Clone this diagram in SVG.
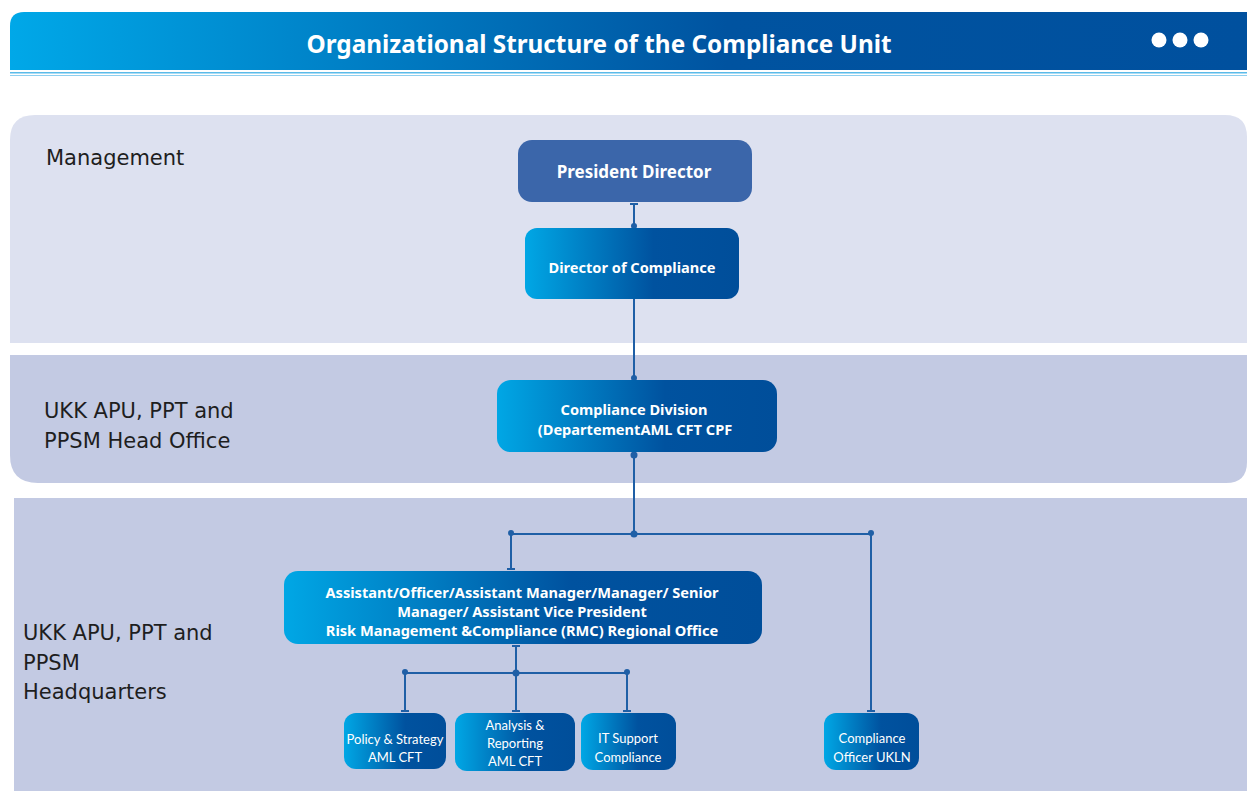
<svg xmlns="http://www.w3.org/2000/svg" width="1247" height="791" viewBox="0 0 1247 791">
<defs>
<linearGradient id="hdr" x1="0" y1="0" x2="1" y2="0">
<stop offset="0" stop-color="#00a8e8"/>
<stop offset="0.58" stop-color="#0053a0"/>
<stop offset="1" stop-color="#00509e"/>
</linearGradient>
<linearGradient id="ng" x1="0" y1="0" x2="1" y2="0">
<stop offset="0" stop-color="#00a7e5"/>
<stop offset="0.6" stop-color="#00529f"/>
<stop offset="1" stop-color="#004e9a"/>
</linearGradient>
<style>
.band1{fill:#dde1f0}
.band2{fill:#c3cae3}
.lbl{font-family:"DejaVu Sans","Liberation Sans",sans-serif;font-size:21px;fill:#1e1e1e}
.bt{font-family:"Noto Sans","Liberation Sans",sans-serif;font-weight:bold;fill:#fff;text-anchor:middle}
.st{font-family:"Lato","Liberation Sans",sans-serif;font-size:13px;fill:#fff;text-anchor:middle}
.node{fill:url(#ng)}
.ln{stroke:#1f5fa6;stroke-width:2;fill:none}
.dot{fill:#1f5fa6}
</style>
</defs>
<rect width="1247" height="791" fill="#fff"/>
<!-- header -->
<path d="M10,70 V26 Q10,12 24,12 H1247 V70 Z" fill="url(#hdr)"/>
<rect x="10" y="72" width="1237" height="1.5" fill="#5bbbe9"/>
<rect x="10" y="75" width="1237" height="1" fill="#8fd0f0"/>
<text x="599" y="53" font-family="Noto Sans, Liberation Sans, sans-serif" font-weight="bold" font-size="24.3" fill="#fff" text-anchor="middle">Organizational Structure of the Compliance Unit</text>
<circle cx="1159" cy="40" r="7.5" fill="#fff"/>
<circle cx="1180" cy="40" r="7.5" fill="#fff"/>
<circle cx="1201" cy="40" r="7.5" fill="#fff"/>
<!-- bands -->
<path class="band1" d="M10,343 V140 Q10,115 35,115 H1225 Q1247,115 1247,137 V343 Z"/>
<path class="band2" d="M10,355 H1247 V462 Q1247,483 1226,483 H38 Q10,483 10,455 Z"/>
<rect class="band2" x="14" y="498" width="1233" height="293"/>
<text class="lbl" x="46" y="165">Management</text>
<text class="lbl" x="44" y="418">UKK APU, PPT and</text>
<text class="lbl" x="44" y="448">PPSM Head Office</text>
<text class="lbl" x="23" y="640">UKK APU, PPT and</text>
<text class="lbl" x="23" y="670">PPSM</text>
<text class="lbl" x="23" y="699">Headquarters</text>
<!-- connectors -->
<g id="connectors">
<line class="ln" x1="634" y1="203" x2="634" y2="227"/>
<line class="ln" x1="630" y1="204" x2="638" y2="204"/>
<circle class="dot" cx="634" cy="226" r="3"/>
<line class="ln" x1="634" y1="299" x2="634" y2="380"/>
<circle class="dot" cx="634" cy="378" r="3"/>
<line class="ln" x1="634" y1="452" x2="634" y2="534"/>
<circle class="dot" cx="634" cy="455" r="3.5"/>
<line class="ln" x1="511" y1="534" x2="871" y2="534"/>
<circle class="dot" cx="634" cy="534" r="3.5"/>
<circle class="dot" cx="511" cy="533" r="3"/>
<circle class="dot" cx="871" cy="533" r="3"/>
<line class="ln" x1="511" y1="534" x2="511" y2="569"/>
<line class="ln" x1="507" y1="569" x2="515" y2="569"/>
<line class="ln" x1="871" y1="534" x2="871" y2="712"/>
<line class="ln" x1="867" y1="711" x2="875" y2="711"/>
<line class="ln" x1="516" y1="645" x2="516" y2="673"/>
<line class="ln" x1="512" y1="646" x2="520" y2="646"/>
<line class="ln" x1="405" y1="673" x2="627" y2="673"/>
<circle class="dot" cx="516" cy="673" r="3.5"/>
<circle class="dot" cx="405" cy="672" r="3"/>
<circle class="dot" cx="627" cy="672" r="3"/>
<line class="ln" x1="405" y1="673" x2="405" y2="712"/>
<line class="ln" x1="401" y1="711" x2="409" y2="711"/>
<line class="ln" x1="516" y1="673" x2="516" y2="712"/>
<line class="ln" x1="512" y1="711" x2="520" y2="711"/>
<line class="ln" x1="627" y1="673" x2="627" y2="712"/>
<line class="ln" x1="623" y1="711" x2="631" y2="711"/>
</g>
<!-- nodes -->
<g id="president">
<rect x="518" y="140" width="234" height="62" rx="14" fill="#3b66aa"/>
<text class="bt" x="634" y="178" font-size="17">President Director</text>
</g>
<g id="director">
<rect class="node" x="525" y="228" width="214" height="71" rx="12"/>
<text class="bt" x="632" y="273" font-size="14.6">Director of Compliance</text>
</g>
<g id="division">
<rect class="node" x="497" y="380" width="280" height="72" rx="14"/>
<text class="bt" x="634" y="415" font-size="14.6">Compliance Division</text>
<text class="bt" x="635" y="435" font-size="14.6">(DepartementAML CFT CPF</text>
</g>
<g id="rmc">
<rect class="node" x="284" y="571" width="478" height="73" rx="14"/>
<text class="bt" x="522" y="598" font-size="14.6">Assistant/Officer/Assistant Manager/Manager/ Senior</text>
<text class="bt" x="522" y="617" font-size="14.6">Manager/ Assistant Vice President</text>
<text class="bt" x="522" y="636" font-size="14.6">Risk Management &amp;Compliance (RMC) Regional Office</text>
</g>
<g id="policy">
<rect class="node" x="344" y="713" width="102" height="56" rx="12"/>
<text class="st" x="395" y="744">Policy &amp; Strategy</text>
<text class="st" x="395" y="762">AML CFT</text>
</g>
<g id="analysis">
<rect class="node" x="455" y="713" width="120" height="58" rx="12"/>
<text class="st" x="515" y="730">Analysis &amp;</text>
<text class="st" x="515" y="748">Reporting</text>
<text class="st" x="515" y="766">AML CFT</text>
</g>
<g id="itsupport">
<rect class="node" x="581" y="713" width="95" height="57" rx="12"/>
<text class="st" x="628" y="743">IT Support</text>
<text class="st" x="628" y="762">Compliance</text>
</g>
<g id="ukln">
<rect class="node" x="824" y="713" width="95" height="57" rx="12"/>
<text class="st" x="872" y="743">Compliance</text>
<text class="st" x="872" y="762">Officer UKLN</text>
</g>
</svg>
